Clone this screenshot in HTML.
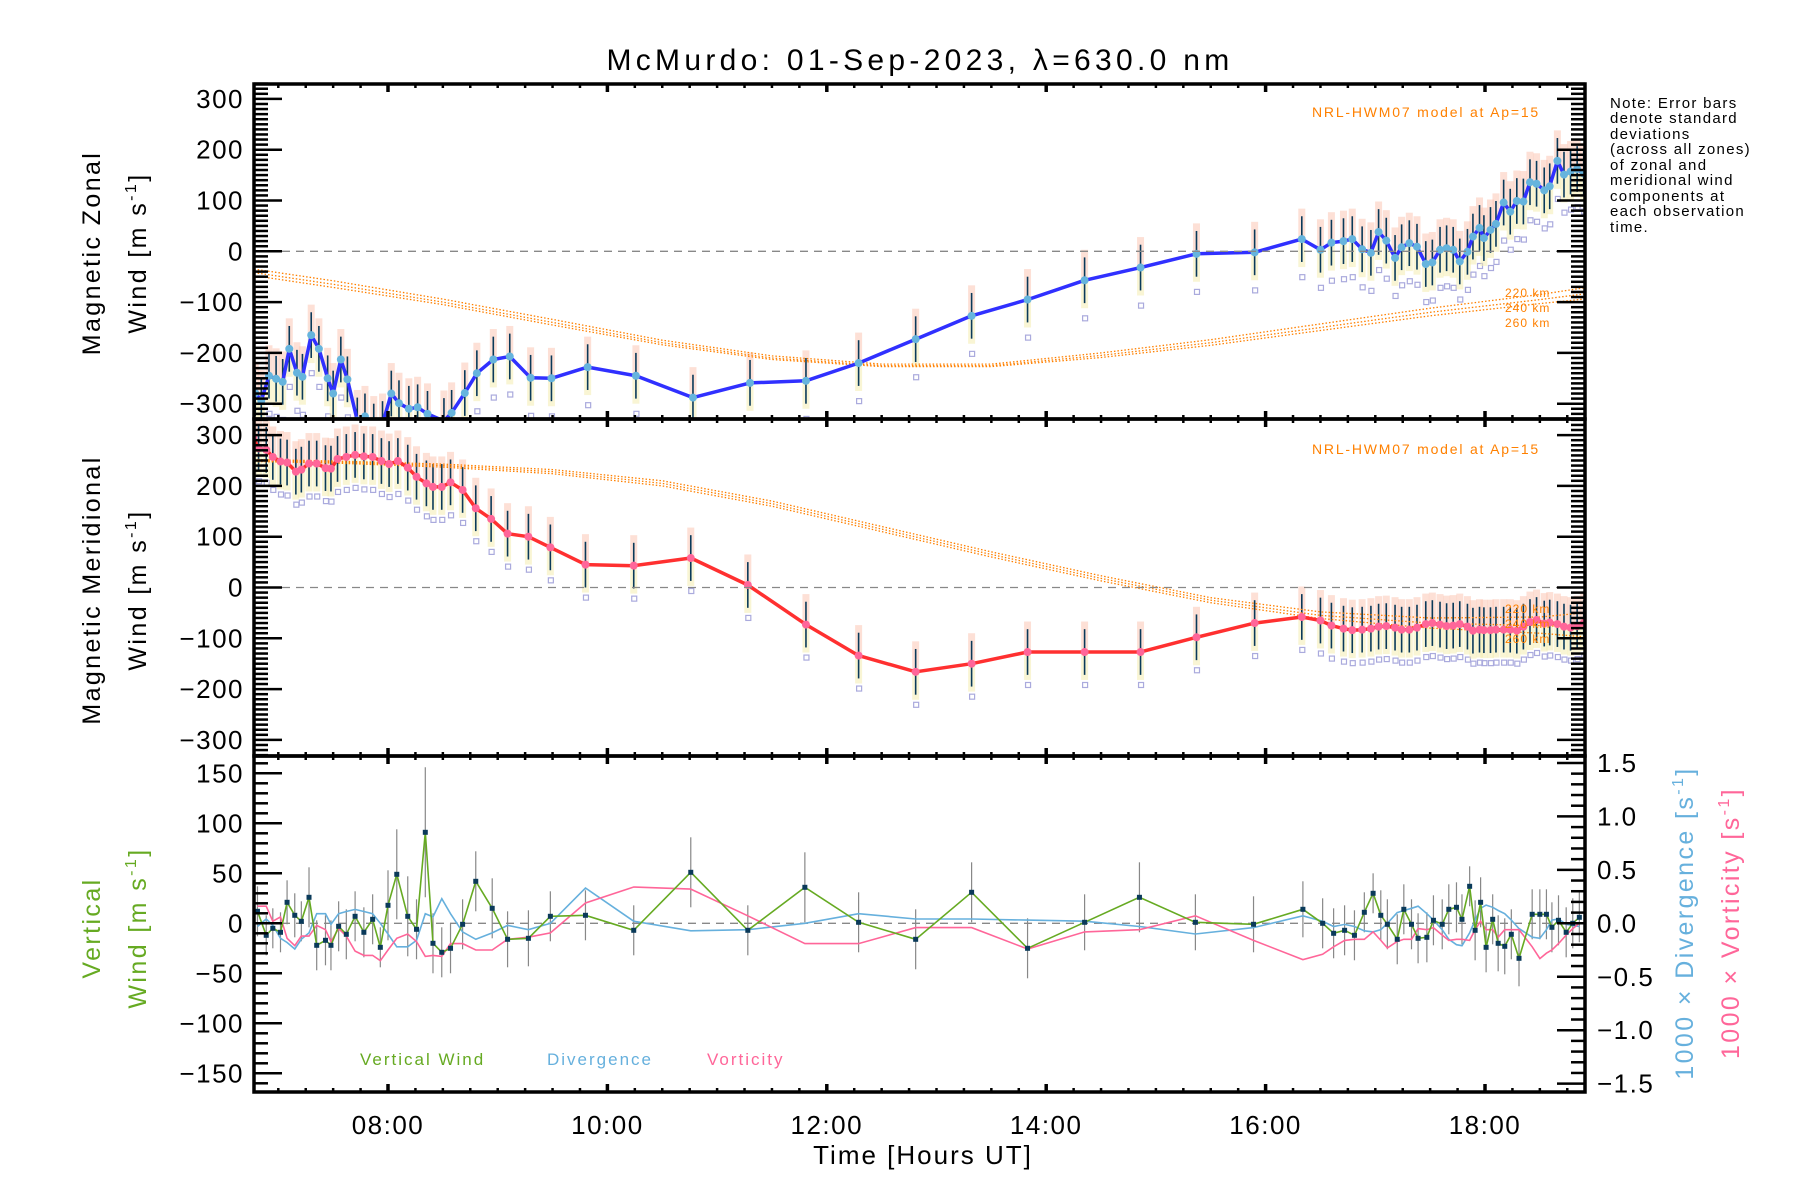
<!DOCTYPE html>
<html><head><meta charset="utf-8"><style>
html,body{margin:0;padding:0;background:#fff}
svg{display:block;font-family:"Liberation Sans",sans-serif}
</style></head><body>
<svg id="chart" width="1800" height="1200" viewBox="0 0 1800 1200">
<defs>
<clipPath id="c1"><rect x="254" y="84" width="1331" height="335"/></clipPath>
<clipPath id="c2"><rect x="254" y="419" width="1331" height="337"/></clipPath>
<clipPath id="c3"><rect x="254" y="756" width="1331" height="336"/></clipPath>
</defs>
<text x="920" y="70" font-size="30" letter-spacing="4.3" text-anchor="middle">McMurdo: 01-Sep-2023, λ=630.0 nm</text>
<g id="g1"></g>
<g id="g2"></g>
<g id="g3"></g>
<g id="ax"></g>
<g font-size="15" letter-spacing="1.3">
<text x="1610" y="108">Note: Error bars</text><text x="1610" y="123">denote standard</text><text x="1610" y="139">deviations</text><text x="1610" y="154">(across all zones)</text><text x="1610" y="170">of zonal and</text><text x="1610" y="185">meridional wind</text><text x="1610" y="201">components at</text><text x="1610" y="216">each observation</text><text x="1610" y="232">time.</text>
</g>
<g font-size="25" text-anchor="middle" letter-spacing="2.4">
<text transform="translate(100,253) rotate(-90)">Magnetic Zonal</text>
<text transform="translate(146,253) rotate(-90)">Wind [m s<tspan font-size="16" dy="-10">-1</tspan><tspan dy="10">]</tspan></text>
<text transform="translate(100,590) rotate(-90)">Magnetic Meridional</text>
<text transform="translate(146,590) rotate(-90)">Wind [m s<tspan font-size="16" dy="-10">-1</tspan><tspan dy="10">]</tspan></text>
<text transform="translate(100,928) rotate(-90)" fill="#66aa22">Vertical</text>
<text transform="translate(146,928) rotate(-90)" fill="#66aa22">Wind [m s<tspan font-size="16" dy="-10">-1</tspan><tspan dy="10">]</tspan></text>
<text transform="translate(1693,923) rotate(-90)" fill="#66b0dd">1000 × Divergence [s<tspan font-size="16" dy="-10">-1</tspan><tspan dy="10">]</tspan></text>
<text transform="translate(1739,923) rotate(-90)" fill="#ff6699">1000 × Vorticity [s<tspan font-size="16" dy="-10">-1</tspan><tspan dy="10">]</tspan></text>
</g>
<text x="923" y="1164" font-size="26" letter-spacing="2" text-anchor="middle">Time [Hours UT]</text>
<g font-size="17" letter-spacing="2">
<text x="360" y="1065" fill="#66aa22">Vertical Wind</text>
<text x="547" y="1065" fill="#66b0dd">Divergence</text>
<text x="707" y="1065" fill="#ff6699">Vorticity</text>
</g>
<g font-size="14" fill="#ff8000" letter-spacing="1.8">
<text x="1312" y="117">NRL-HWM07 model at Ap=15</text>
<text x="1312" y="454">NRL-HWM07 model at Ap=15</text>
<g font-size="12" letter-spacing="1"><text x="1505" y="297">220 km</text><text x="1505" y="312">240 km</text><text x="1505" y="327">260 km</text>
<text x="1505" y="613">220 km</text><text x="1505" y="628">240 km</text><text x="1505" y="643">260 km</text></g>
</g>
</svg>
<script>
const zonalTimes=[6.79,6.845,6.915,6.98,7.04,7.10,7.17,7.22,7.30,7.37,7.45,7.50,7.57,7.63,7.72,7.79,7.87,7.95,8.03,8.10,8.19,8.27,8.36,8.51,8.58,8.70,8.81,8.96,9.11,9.30,9.49,9.82,10.26,10.78,11.30,11.81,12.29,12.81,13.32,13.83,14.35,14.86,15.37,15.90,16.33,16.50,16.60,16.71,16.79,16.88,16.96,17.03,17.10,17.18,17.24,17.31,17.38,17.46,17.52,17.59,17.65,17.71,17.77,17.84,17.89,17.95,17.99,18.05,18.10,18.17,18.23,18.29,18.35,18.41,18.47,18.54,18.59,18.66,18.72,18.78,18.84,18.90];
const zonalValues=[-279,-294,-245,-251,-257,-192,-239,-247,-165,-192,-250,-280,-213,-252,-333,-325,-345,-340,-280,-299,-310,-307,-320,-334,-318,-279,-240,-213,-207,-249,-250,-228,-245,-288,-259,-255,-220,-173,-127,-95,-57,-32,-5,-2,24,3,17,20,24,4,-3,38,21,-13,8,16,9,-25,-22,3,6,3,-20,-1,29,46,26,42,54,96,78,99,98,136,133,120,128,178,151,157,162,153];
const meridTimes=[6.77,6.82,6.89,6.95,7.02,7.08,7.16,7.21,7.28,7.35,7.43,7.48,7.54,7.62,7.70,7.78,7.86,7.94,8.01,8.09,8.18,8.26,8.35,8.41,8.49,8.57,8.68,8.80,8.94,9.09,9.28,9.48,9.80,10.24,10.76,11.28,11.81,12.29,12.81,13.32,13.83,14.35,14.86,15.37,15.90,16.33,16.50,16.60,16.71,16.79,16.88,16.96,17.03,17.10,17.18,17.24,17.31,17.38,17.46,17.52,17.59,17.65,17.71,17.77,17.84,17.89,17.95,17.99,18.05,18.10,18.17,18.23,18.29,18.35,18.41,18.47,18.54,18.59,18.66,18.72,18.78,18.84,18.90];
const meridValues=[295,274,271,257,248,246,228,232,244,244,235,234,253,257,261,258,257,249,243,249,236,218,205,198,198,207,192,156,135,106,100,79,45,43,58,5,-73,-134,-166,-150,-127,-127,-127,-98,-70,-58,-65,-75,-81,-84,-83,-81,-77,-76,-79,-83,-83,-79,-72,-70,-73,-76,-75,-72,-77,-85,-83,-84,-84,-83,-83,-83,-85,-77,-68,-64,-71,-69,-72,-77,-79,-76,-70];
const modelTimes=[6.78,7.5,8.5,9.5,10.5,11.5,12.5,13.5,14.5,15.5,16.5,17.5,18.5,18.9];
const zonalModel220=[-35,-58,-94,-134,-175,-206,-222,-222,-200,-174,-143,-112,-85,-72];
const zonalModel240=[-42,-65,-100,-140,-180,-210,-225,-225,-205,-180,-150,-120,-95,-84];
const zonalModel260=[-48,-71,-105,-145,-184,-213,-227,-227,-209,-185,-156,-127,-103,-94];
const meridModel220=[252,249,243,232,210,170,120,70,23,-20,-48,-60,-58,-50];
const meridModel240=[250,247,240,228,205,165,115,65,18,-25,-55,-70,-75,-78];
const meridModel260=[248,245,237,224,200,160,110,60,13,-30,-61,-80,-90,-97];
const vertTimes=[6.81,6.89,6.95,7.02,7.08,7.15,7.21,7.28,7.35,7.43,7.48,7.55,7.62,7.70,7.78,7.86,7.93,8.00,8.08,8.18,8.26,8.34,8.41,8.49,8.57,8.68,8.80,8.95,9.09,9.28,9.48,9.80,10.24,10.76,11.28,11.80,12.29,12.81,13.32,13.83,14.35,14.85,15.36,15.89,16.34,16.52,16.62,16.72,16.81,16.90,16.98,17.05,17.11,17.20,17.26,17.33,17.39,17.47,17.53,17.61,17.67,17.74,17.79,17.86,17.91,17.96,18.01,18.07,18.12,18.18,18.24,18.31,18.43,18.50,18.56,18.61,18.67,18.74,18.80,18.86];
const vertValues=[12,-12,-5,-9,21,8,2,26,-22,-17,-22,-3,-11,7,-9,4,-24,18,49,7,-6,91,-20,-29,-25,-1,42,15,-16,-15,7,8,-7,51,-7,36,1,-16,31,-25,1,26,1,-1,14,0,-10,-7,-12,11,30,8,-1,-16,14,-1,-15,-14,3,-1,14,16,4,37,-7,21,-24,4,-20,-23,-11,-35,9,9,9,-4,3,-9,0,6];
const vertErrors=[25,20,20,20,22,22,20,30,25,25,25,25,25,25,25,25,20,35,45,40,30,65,30,25,25,25,30,30,28,28,25,25,25,35,25,35,30,30,30,30,28,35,28,28,28,25,25,25,25,20,20,25,25,25,25,25,25,25,25,25,25,25,25,20,30,25,25,25,28,28,25,28,25,25,25,25,25,25,25,25];
const divValues=[-0.03,0.04,-0.02,-0.14,-0.18,-0.24,-0.15,-0.09,0.09,0.09,-0.01,0.09,0.11,0.13,0.11,0.09,0.0,-0.1,-0.22,-0.22,-0.16,0.09,0.06,0.23,0.09,-0.08,-0.15,-0.09,-0.02,-0.06,0,0.33,0.02,-0.07,-0.06,0,0.09,0.04,0.04,0.03,0.02,-0.03,-0.10,-0.04,0.07,0.02,-0.03,-0.01,-0.03,-0.07,-0.08,-0.06,0,0.10,0.12,0.14,0.16,0.09,0.03,-0.06,-0.15,-0.20,-0.21,-0.09,0.03,0.14,0.17,0.15,0.12,0.09,0.03,-0.05,-0.13,-0.14,-0.06,0.03,0.04,-0.01,-0.02,-0.03];
const vortValues=[0.16,0.16,0.02,0.06,-0.14,-0.21,-0.12,-0.12,-0.02,-0.06,-0.17,-0.05,-0.12,-0.26,-0.30,-0.30,-0.35,-0.25,-0.14,-0.10,-0.17,-0.31,-0.30,-0.31,-0.19,-0.19,-0.25,-0.25,-0.15,-0.13,-0.09,0.19,0.34,0.32,0.07,-0.19,-0.19,-0.04,-0.04,-0.24,-0.08,-0.06,0.07,-0.16,-0.34,-0.29,-0.22,-0.16,-0.15,-0.15,-0.08,-0.16,-0.23,-0.17,-0.15,-0.15,-0.05,-0.06,-0.04,-0.11,-0.16,-0.15,-0.15,-0.16,-0.06,0.02,-0.06,-0.06,-0.13,-0.06,-0.06,-0.06,-0.22,-0.33,-0.28,-0.25,-0.19,-0.11,-0.05,0.0];
const xTickLabels=["08:00","10:00","12:00","14:00","16:00","18:00"];
const windTickLabels=["-300","-200","-100","0","100","200","300"];
const vertTickLabels=["-150","-100","-50","0","50","100","150"];
const ratioTickLabels=["-1.5","-1.0","-0.5","0.0","0.5","1.0","1.5"];

const NS="http://www.w3.org/2000/svg";
const L=254,R=1585;
const X=t=>388+(t-8)*109.7;
const P1={top:84,bot:419},P2={top:419,bot:756},P3={top:756,bot:1092};
const Y1=v=>251.3-v*0.508;
const Y2=v=>587.5-v*0.508;
const Y3=v=>923.3-v*1.0;
const YR=v=>923.3-v*106.9;
function mk(tag,attrs,parent){const e=document.createElementNS(NS,tag);for(const k in attrs)e.setAttribute(k,attrs[k]);parent.appendChild(e);return e;}
const g1=document.getElementById('g1'),g2=document.getElementById('g2'),g3=document.getElementById('g3'),ax=document.getElementById('ax');
function pathD(ts,vs,Y,Xf){return ts.map((t,i)=>(i?'L':'M')+Xf(t).toFixed(1)+' '+Y(vs[i]).toFixed(1)).join(' ');}

function windPanel(g,clip,ts,vs,Y,lineCol,mkCol,models,lav){
  const c=mk('g',{'clip-path':'url(#'+clip+')'},g);
  
  
  ts.forEach((t,i)=>{const x=X(t),v=vs[i];
    const b1=mk('rect',{x:x-3.5,y:Y(v+60),width:7,height:Y(v)-Y(v+60),fill:'#fbc6b4',opacity:0.55},c);
    
    
    const b2=mk('rect',{x:x-3.5,y:Y(v),width:7,height:Y(v-55)-Y(v),fill:'#f4ecb0',opacity:0.55},c);
    
    
    const sq=mk('rect',{x:x-2,y:Y(v+lav),width:5,height:5,fill:'none',stroke:'#aaaadd','stroke-width':1.2},c);
    
    
    const eb=mk('line',{x1:x,x2:x,y1:Y(v+45),y2:Y(v-45),stroke:'#0a3a5a','stroke-width':1.6},c);
    
    
  });
  models.forEach(m=>{const p=mk('path',{d:pathD(modelTimes,m,Y,X),fill:'none',stroke:'#ff8000','stroke-width':1.3,'stroke-dasharray':'1.5 2'},c);
    
    });
  const ln=mk('path',{d:pathD(ts,vs,Y,X),fill:'none',stroke:lineCol,'stroke-width':3.5,'stroke-linejoin':'round'},c);
  
  
  ts.forEach((t,i)=>{const d=mk('circle',{cx:X(t),cy:Y(vs[i]),r:4,fill:mkCol},c);
    
    });
  const z=mk('line',{x1:L,x2:R,y1:Y(0),y2:Y(0),stroke:'#888','stroke-width':1.3,'stroke-dasharray':'8 6'},g);
  
  
}
windPanel(g1,'c1',zonalTimes,zonalValues,Y1,'#3030ff','#66b4dd',[zonalModel220,zonalModel240,zonalModel260],-70);
windPanel(g2,'c2',meridTimes,meridValues,Y2,'#ff3030','#ff6699',[meridModel220,meridModel240,meridModel260],-60);

(function(){
  const c=mk('g',{'clip-path':'url(#c3)'},g3);
  
  
  const z=mk('line',{x1:L,x2:R,y1:Y3(0),y2:Y3(0),stroke:'#888','stroke-width':1.3,'stroke-dasharray':'8 6'},c);
  
  
  vertTimes.forEach((t,i)=>{const e=mk('line',{x1:X(t),x2:X(t),y1:Y3(vertValues[i]+vertErrors[i]),y2:Y3(vertValues[i]-vertErrors[i]),stroke:'#888','stroke-width':1.2},c);
    
    });
  const dv=mk('path',{d:pathD(vertTimes,divValues,YR,X),fill:'none',stroke:'#66b0dd','stroke-width':1.6},c);
  
  
  const vo=mk('path',{d:pathD(vertTimes,vortValues,YR,X),fill:'none',stroke:'#ff6699','stroke-width':1.6},c);
  
  
  const vw=mk('path',{d:pathD(vertTimes,vertValues,Y3,X),fill:'none',stroke:'#66aa22','stroke-width':1.6},c);
  
  
  vertTimes.forEach((t,i)=>{const s=mk('rect',{x:X(t)-2.5,y:Y3(vertValues[i])-2.5,width:5,height:5,fill:'#0a3a5a'},c);
    
    });
})();

function frame(p){const r=mk('rect',{x:L,y:p.top,width:R-L,height:p.bot-p.top,fill:'none',stroke:'#000','stroke-width':3.5},ax);
  
  }
[P1,P2,P3].forEach(frame);
function xticks(p,labels){
  for(let m=0;m<=12*4;m++){const t=6.75+m*0.25;if(t<6.78||t>18.91)continue;const x=X(t);const maj=Math.abs(t%2)<1e-6;const len=maj?8:4;
    mk('line',{x1:x,x2:x,y1:p.bot,y2:p.bot-len,stroke:'#000','stroke-width':maj?3.5:2.5},ax);
    mk('line',{x1:x,x2:x,y1:p.top,y2:p.top+len,stroke:'#000','stroke-width':maj?3.5:2.5},ax);}
  if(labels){xTickLabels.forEach((s,i)=>{const t=8+2*i;const tx=mk('text',{x:X(t),y:1134,'font-size':26,'letter-spacing':1.5,'text-anchor':'middle'},ax);tx.textContent=s;
    
    });}
}
xticks(P1,false);xticks(P2,false);xticks(P3,true);
function yticks(p,Y,lo,hi,minor,major,labels,labVals,side){
  for(let v=lo;v<=hi+1e-9;v+=minor){const y=Y(v);if(y<p.top-0.5||y>p.bot+0.5)continue;const maj=Math.abs(Math.round(v/major)*major-v)<1e-6;const len=maj?28:14;
    if(side==='L'||side==='both')mk('line',{x1:L,x2:L+len,y1:y,y2:y,stroke:'#000','stroke-width':2.5},ax);
    if(side==='R'||side==='both')mk('line',{x1:R,x2:R-len,y1:y,y2:y,stroke:'#000','stroke-width':2.5},ax);}
  if(labels)labels.forEach((s,i)=>{const v=labVals[i];const y=Y(v);if(y<p.top-12||y>p.bot+12)return;
    const tx=mk('text',{x:side==='R'?1597:244,y:y+9,'font-size':26,'letter-spacing':1.5,'text-anchor':side==='R'?'start':'end'},ax);tx.textContent=s.replace('-','\u2212');
    
    });
}
const wv=[-300,-200,-100,0,100,200,300];
yticks(P1,Y1,-330,330,10,100,windTickLabels,wv,'both');
yticks(P2,Y2,-330,330,10,100,windTickLabels,wv,'both');
yticks(P3,Y3,-160,160,10,50,vertTickLabels,[-150,-100,-50,0,50,100,150],'L');
yticks(P3,YR,-1.5,1.5,0.1,0.5,ratioTickLabels,[-1.5,-1,-0.5,0,0.5,1,1.5],'R');
</script>
</body></html>
